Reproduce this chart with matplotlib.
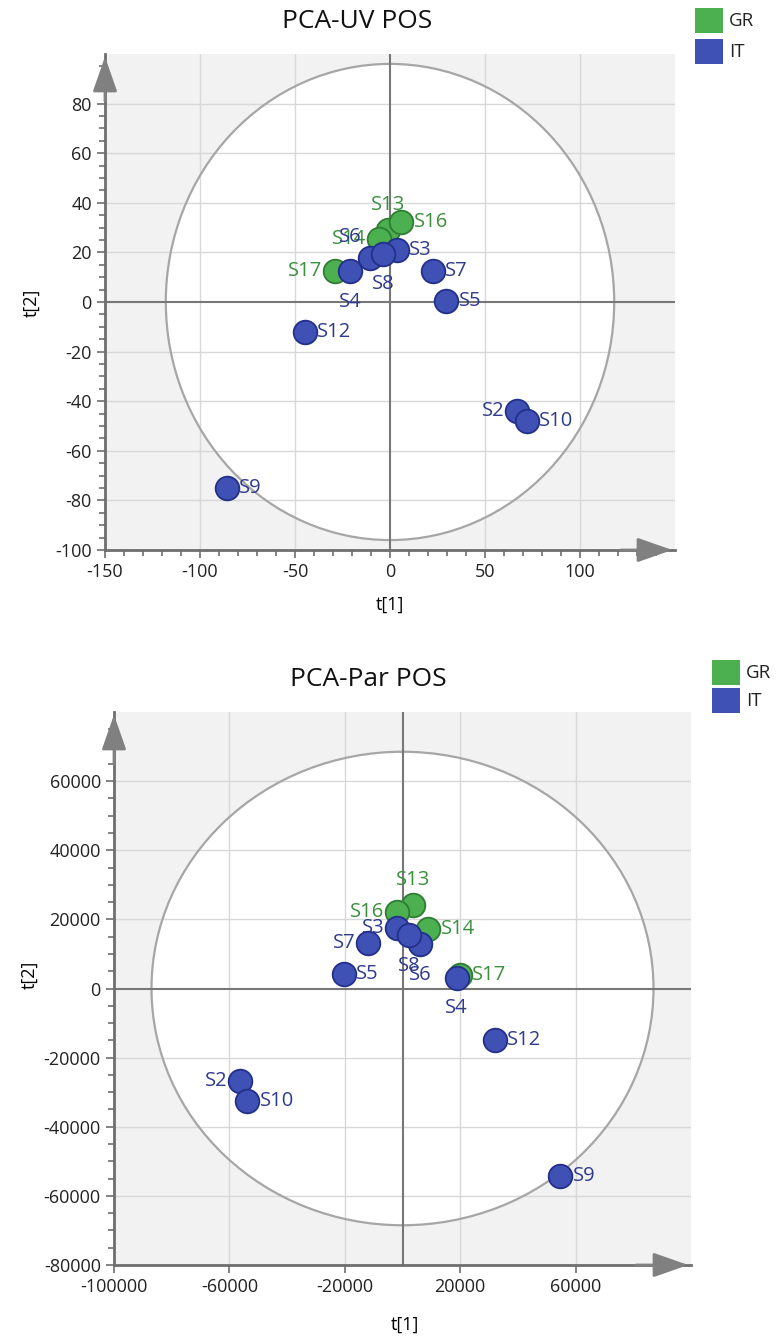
import numpy as np
import matplotlib.pyplot as plt
from matplotlib.patches import Ellipse, Rectangle
from matplotlib.ticker import FixedLocator

plt.rcParams['font.family'] = ['Open Sans', 'DejaVu Sans']
plt.rcParams['axes.unicode_minus'] = False

# ---- data ----
samples = ['S2', 'S3', 'S4', 'S5', 'S6', 'S7', 'S8', 'S9', 'S10', 'S12',
           'S13', 'S14', 'S16', 'S17']
groups = ['IT', 'IT', 'IT', 'IT', 'IT', 'IT', 'IT', 'IT', 'IT', 'IT',
          'GR', 'GR', 'GR', 'GR']

# PCA-UV POS scores
uv_t1 = [67, 3.5, -21, 29.5, -10.5, 22.5, -3.5, -86, 72, -45, -1, -6, 6, -29]
uv_t2 = [-44, 21, 12.3, 0.3, 17.7, 12.7, 19.4, -75, -48, -12, 28.9, 25.5, 32.2, 12.7]
uv_ellipse = (118, 96)

# PCA-Par POS scores
par_t1 = [-56300, -2000, 18800, -20300, 6100, -11800, 2400, 54600, -53900, 32000,
          3700, 8900, -2000, 19900]
par_t2 = [-26700, 17600, 3100, 4300, 12800, 13200, 15400, -54200, -32500, -15000,
          24300, 17100, 22100, 3800]
par_ellipse = (87000, 68500)

# label placement (layout only)
uv_pos = ['l', 'r', 'd', 'r', 'ul', 'r', 'd', 'r', 'r', 'r', 'u', 'l', 'r', 'l']
par_pos = ['l', 'l', 'd', 'r', 'd', 'l', 'd', 'r', 'r', 'r', 'u', 'r', 'l', 'r']

FILL = {'GR': '#4caf50', 'IT': '#3f51b5'}
EDGE = {'GR': '#2f7d33', 'IT': '#23308a'}
TXT = {'GR': '#3b8f3e', 'IT': '#2f3b8c'}
AXC = '#6e6e6e'

OFFS = {'r': (9, 0, 'left'), 'l': (-9, 0, 'right'), 'u': (0, 18, 'center'),
        'd': (0, -22, 'center'), 'ul': (-14, 15, 'center')}


def pca_panel(ax, t1, t2, pos, ell, xlim, ylim, xmaj, ymaj, xmin, ymin):
    ax.set_facecolor('#f2f2f2')
    ax.set_xlim(*xlim)
    ax.set_ylim(*ylim)
    ax.add_patch(Ellipse((0, 0), 2 * ell[0], 2 * ell[1], facecolor='white',
                         edgecolor='none', zorder=0.5))
    for v in xmaj:
        if v not in (0, xlim[0]):
            ax.axvline(v, color='#d8d8d8', lw=1, zorder=0.8)
    for v in ymaj:
        if v not in (0, ylim[0]):
            ax.axhline(v, color='#d8d8d8', lw=1, zorder=0.8)
    ax.add_patch(Ellipse((0, 0), 2 * ell[0], 2 * ell[1], facecolor='none',
                         edgecolor='#a6a6a6', lw=1.6, zorder=1))
    ax.axvline(0, color='#777777', lw=1.5, zorder=1.2)
    ax.axhline(0, color='#777777', lw=1.5, zorder=1.2)

    order = [i for i, g in enumerate(groups) if g == 'GR'] + \
            [i for i, g in enumerate(groups) if g == 'IT']
    for i in order:
        g = groups[i]
        ax.scatter(t1[i], t2[i], s=290, color=FILL[g], edgecolor=EDGE[g],
                   linewidth=1.3, zorder=3)
        dx, dy, ha = OFFS[pos[i]]
        ax.annotate(samples[i], (t1[i], t2[i]), xytext=(dx, dy),
                    textcoords='offset points', ha=ha, va='center',
                    fontsize=14.5, color=TXT[g], zorder=2)

    ax.set_xticks(xmaj)
    ax.set_yticks(ymaj)
    if xmin is not None:
        ax.xaxis.set_minor_locator(FixedLocator(xmin))
    if ymin is not None:
        ax.yaxis.set_minor_locator(FixedLocator(ymin))
    ax.tick_params(which='major', length=6, width=1.2, color=AXC,
                   labelsize=13, labelcolor='#222222')
    ax.tick_params(which='minor', length=4, width=1.2, color=AXC)
    for s in ('top', 'right'):
        ax.spines[s].set_visible(False)
    for s in ('left', 'bottom'):
        ax.spines[s].set_color(AXC)
        ax.spines[s].set_linewidth(2)
    arrow = dict(arrowstyle='-|>,head_length=0.8,head_width=0.28',
                 color='#808080', lw=2, mutation_scale=27)
    ax.annotate('', xy=(0, 1.0), xytext=(0, 0.9), xycoords='axes fraction',
                arrowprops=arrow, annotation_clip=False)
    ax.annotate('', xy=(1.0, 0), xytext=(0.9, 0), xycoords='axes fraction',
                arrowprops=arrow, annotation_clip=False)


fig = plt.figure(figsize=(7.77, 13.4), dpi=100)
W, H = 777, 1340

# ---- top panel: PCA-UV POS ----
ax1 = fig.add_axes([105 / W, 1 - 550 / H, 570 / W, 496 / H])
pca_panel(ax1, uv_t1, uv_t2, uv_pos, uv_ellipse, (-150, 150), (-100, 100),
          [-150, -100, -50, 0, 50, 100], list(range(-100, 81, 20)),
          np.arange(-150, 141, 10), np.arange(-100, 96, 5))
fig.text(357 / W, 1 - 22 / H, 'PCA-UV POS', ha='center', va='center', fontsize=19,
         color='#111111')
fig.text(390 / W, 1 - 605 / H, 't[1]', ha='center', va='center', fontsize=13)
fig.text(32 / W, 1 - 303 / H, 't[2]', ha='center', va='center', fontsize=13,
         rotation=90)

# ---- bottom panel: PCA-Par POS ----
ax2 = fig.add_axes([114 / W, 1 - 1265 / H, 577 / W, 553 / H])
pca_panel(ax2, par_t1, par_t2, par_pos, par_ellipse, (-100000, 100000),
          (-80000, 80000), [-100000, -60000, -20000, 20000, 60000],
          list(range(-80000, 60001, 20000)), None, np.arange(-80000, 75001, 5000))
fig.text(368 / W, 1 - 680 / H, 'PCA-Par POS', ha='center', va='center', fontsize=19,
         color='#111111')
fig.text(405 / W, 1 - 1325 / H, 't[1]', ha='center', va='center', fontsize=13)
fig.text(30 / W, 1 - 975 / H, 't[2]', ha='center', va='center', fontsize=13,
         rotation=90)

# ---- legends ----
for (x0, y0, gap) in [(695, 8, 31), (712, 660, 28)]:
    for k, g in enumerate(['GR', 'IT']):
        top = y0 + k * gap
        fig.patches.append(Rectangle((x0 / W, 1 - (top + 25) / H), 28 / W, 25 / H,
                                     transform=fig.transFigure, facecolor=FILL[g],
                                     edgecolor='none'))
        fig.text((x0 + 34) / W, 1 - (top + 13) / H, g, ha='left', va='center',
                 fontsize=13.5, color='#222222')

fig.savefig('out.png', dpi=100)
